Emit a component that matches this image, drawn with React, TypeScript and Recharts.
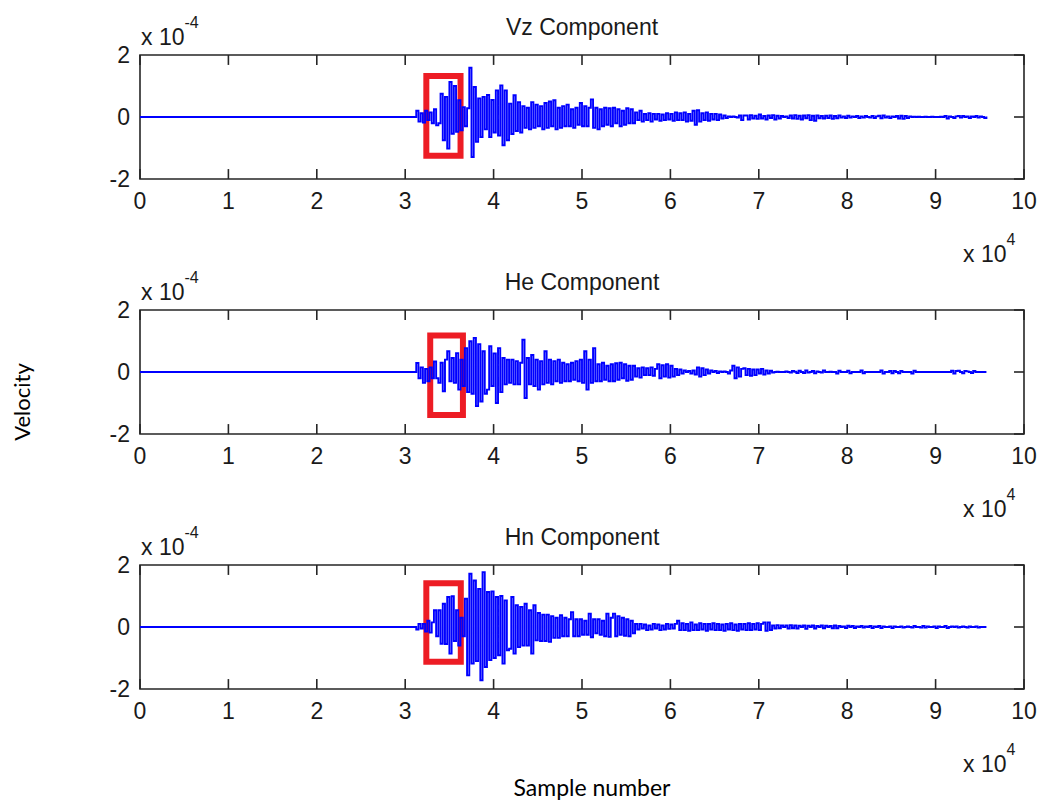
import React from 'react';
import { LineChart, Line, XAxis, YAxis, ReferenceArea, ReferenceLine } from 'recharts';

const startSample = 31000;
const sampleStep = 250;

const xTicks = [0, 10000, 20000, 30000, 40000, 50000, 60000, 70000, 80000, 90000, 100000];
const yTicks = [-2, 0, 2];
const xDomain = [0, 100000];
const yDomain = [-2, 2];

// amplitudes in units of 1e-4
const vzValues = [
  0, 0.2, -0.15, 0.12, -0.18, 0.2, -0.1, 0.15, -0.2, 0.25,
  -0.27, -0.2, 0.75, -0.75, 0.65, -1.02, 1.13, -0.54, 1.0, -0.48,
  0.54, -0.43, 0.32, -0.3, 0.28, 1.59, -1.29, 0.97, -0.8, 0.6,
  -0.65, 0.65, -0.4, 0.71, -0.65, 0.55, -0.5, 0.86, -0.6, 1.02,
  -0.91, 0.86, -0.75, 0.43, -0.55, 0.7, -0.45, 0.48, -0.5, 0.35,
  -0.35, 0.3, -0.4, 0.48, -0.35, 0.4, -0.3, 0.35, -0.4, 0.45,
  -0.35, 0.5, -0.3, 0.54, -0.4, 0.3, -0.35, 0.35, -0.3, 0.4,
  -0.3, 0.25, -0.35, 0.3, -0.25, 0.45, -0.3, 0.35, -0.3, 0.3,
  0.57, -0.35, 0.3, -0.4, 0.25, -0.3, 0.3, -0.25, 0.28, -0.3,
  0.3, -0.2, 0.25, -0.3, 0.2, -0.25, 0.28, -0.2, 0.25, -0.2,
  0.15, -0.1, 0.2, -0.15, 0.1, -0.1, 0.12, -0.15, 0.1, -0.08,
  0.1, -0.12, 0.08, -0.1, 0.12, -0.08, 0.1, -0.12, 0.15, -0.1,
  0.12, -0.1, 0.15, -0.15, 0.1, -0.12, 0.2, -0.25, 0.22, -0.15,
  0.12, -0.1, 0.15, -0.12, 0.1, -0.08, 0.1, -0.1, 0.08, -0.05,
  0.05, -0.03, 0.02, 0, 0.02, 0, -0.02, 0.05, -0.1, 0.05,
  0.05, -0.08, 0.06, -0.05, 0.04, -0.06, 0.08, -0.05, 0.03, -0.08,
  0.05, -0.03, 0.06, -0.08, 0.04, -0.05, 0.03, 0, 0.02, -0.03,
  0.05, -0.05, 0.06, -0.06, 0.04, -0.08, 0.05, -0.04, 0.06, -0.1,
  0.04, -0.12, 0.05, -0.04, 0.03, -0.05, 0.04, -0.03, 0.05, -0.06,
  0.03, -0.04, 0.05, -0.02, 0.02, -0.03, 0.04, -0.02, 0.02, 0,
  0.03, -0.03, 0.02, -0.02, 0.03, 0, -0.02, 0.03, -0.03, 0.02,
  0.04, -0.04, 0.05, -0.02, 0.02, -0.03, 0.02, 0, 0.03, -0.05,
  0.04, -0.06, 0.03, -0.03, 0.02, 0, 0.01, 0, 0.01, 0,
  0, 0.01, 0, 0, 0.01, 0, 0, 0, 0.01, 0,
  0.03, -0.05, 0.02, 0, -0.03, 0.02, 0.03, -0.02, 0.03, 0,
  0.02, -0.03, 0.02, 0, 0.03, -0.02, 0.02, 0, -0.03, 0.02,
];

const heValues = [
  0, 0.29, -0.2, 0.15, -0.35, 0.1, -0.3, 0.15, -0.2, 0.34,
  -0.2, -0.35, 0.3, -0.62, 0.4, 0.67, -0.3, 0.45, -0.35, 0.61,
  -0.57, 0.4, -0.45, 0.77, -0.65, 0.99, -0.7, 1.1, -1.1, 0.9,
  -0.95, 0.67, -0.7, -0.57, 0.83, -0.45, 0.6, -1.0, 0.77, -0.65,
  0.45, -0.4, 0.4, -0.35, 0.4, -0.4, 0.35, -0.4, 0.3, 1.04,
  -0.84, 0.45, -0.4, 0.55, -0.45, 0.4, -0.57, 0.35, -0.4, 0.67,
  -0.35, 0.4, -0.4, 0.35, -0.3, 0.4, -0.35, 0.3, -0.3, 0.25,
  -0.3, 0.3, -0.25, 0.35, -0.3, 0.4, -0.35, 0.67, -0.57, 0.4,
  -0.35, 0.77, -0.3, 0.25, -0.3, 0.3, -0.25, 0.2, -0.3, 0.25,
  -0.3, 0.28, -0.25, 0.3, -0.2, 0.25, -0.28, 0.2, -0.25, 0.2,
  -0.15, 0.12, -0.18, 0.15, -0.1, 0.12, -0.1, 0.15, -0.12, 0.1,
  0.25, -0.2, 0.22, -0.15, 0.25, -0.18, 0.2, -0.15, 0.1, -0.1,
  0.08, -0.05, 0.05, 0, 0.03, -0.05, 0.05, -0.08, 0.15, -0.15,
  0.12, -0.1, 0.08, -0.05, 0.05, 0, 0.03, -0.03, 0.02, 0,
  0.02, 0, -0.05, 0.05, 0.2, -0.2, 0.15, -0.15, 0.1, 0.12,
  -0.1, 0.1, -0.12, 0.08, -0.1, 0.08, -0.05, 0.1, -0.08, 0.05,
  -0.05, 0.04, -0.02, 0, 0.01, 0, 0, 0, 0.02, 0,
  -0.02, 0.03, 0.01, -0.03, 0.04, 0, -0.03, 0.05, -0.02, 0,
  0.03, -0.04, 0.02, 0, -0.02, 0.05, 0, 0, 0.01, 0,
  0, -0.05, 0.04, 0, 0, 0, 0.04, -0.04, 0, 0,
  0, 0, 0.05, -0.04, 0, 0, 0, 0, 0, 0,
  0, 0.05, -0.05, 0, 0, 0.03, -0.04, 0.03, 0, -0.04,
  0.03, 0, 0, 0, 0, -0.05, 0.04, 0, 0, 0,
  0, 0, 0, 0, 0, 0, 0, 0, 0, 0,
  0, 0, 0, 0.04, -0.05, 0.03, 0.04, 0, -0.04, 0.03,
  0.02, 0, -0.03, 0.03, 0, 0, 0, 0, 0, 0,
];

const hnValues = [
  0, -0.08, 0.1, -0.05, 0.1, -0.15, 0.2, -0.18, 0.15, 0.54,
  -0.3, 0.54, -0.54, 0.75, -0.55, 0.97, -0.86, 0.99, -0.45, 0.54,
  -0.6, 0.3, -0.3, 0.91, -1.56, 1.72, -1.18, 1.5, -1.1, 1.23,
  -1.72, 1.77, -1.29, 1.13, -1.07, 1.15, -1.0, 0.97, -0.91, 1.0,
  -1.18, 0.86, -0.75, -0.7, 0.97, -0.86, 0.7, -0.65, 0.65, -0.6,
  0.75, -0.6, 0.54, -0.86, 0.7, -0.43, 0.45, -0.45, 0.4, -0.45,
  0.4, -0.48, 0.35, -0.35, 0.3, -0.35, 0.38, -0.3, 0.3, -0.3,
  0.25, 0.48, -0.3, 0.25, -0.3, 0.25, -0.25, 0.2, -0.25, 0.43,
  -0.33, 0.25, -0.2, 0.25, -0.25, 0.2, -0.3, 0.43, -0.32, 0.3,
  0.43, -0.3, 0.35, -0.25, 0.3, -0.28, 0.25, -0.3, 0.2, -0.2,
  0.1, -0.08, 0.1, -0.05, 0.08, -0.1, 0.05, -0.08, 0.1, -0.05,
  0.08, -0.1, 0.05, -0.08, 0.1, -0.06, 0.08, -0.05, 0.1, 0.2,
  -0.1, 0.12, -0.1, 0.1, -0.12, 0.15, -0.1, 0.08, -0.1, 0.12,
  -0.08, 0.1, -0.12, 0.1, -0.08, 0.12, -0.1, 0.1, -0.1, 0.08,
  -0.12, 0.1, -0.08, 0.12, -0.1, 0.08, -0.12, 0.1, -0.08, 0.1,
  -0.1, 0.12, -0.1, 0.1, -0.08, 0.12, -0.1, 0.1, 0.15, -0.12,
  0.15, -0.1, 0.05, -0.05, 0.06, -0.04, 0.05, 0, 0.05, -0.05,
  0.06, -0.04, 0.05, -0.05, 0.04, 0, 0.05, -0.06, 0.04, 0,
  0.05, -0.05, 0.03, 0, 0.05, -0.04, 0.04, 0, 0.03, -0.04,
  0.05, -0.04, 0.03, 0, 0.02, -0.03, 0.04, 0, 0.03, -0.03,
  0.02, 0, 0.03, -0.02, 0.02, 0, 0.03, -0.03, 0.02, 0,
  0.03, -0.03, 0.02, 0, 0, 0.02, -0.03, 0.02, 0, 0,
  0.02, -0.02, 0, 0.02, 0, -0.02, 0.03, 0, 0, -0.02,
  0.03, -0.02, 0.02, 0, 0, 0.02, -0.03, 0.02, 0, 0,
  0.03, -0.03, 0, 0.02, 0, 0.02, -0.02, 0, 0.02, 0,
  -0.02, 0.02, 0, 0, 0.02, -0.02, 0, 0, 0, 0,
];

const titles = ['Vz Component', 'He Component', 'Hn Component'];

// highlighted windows (sample range, amplitude range)
const boxX1 = [32390, 32830, 32390];
const boxX2 = [36260, 36530, 36290];
const boxYTop = [1.32, 1.18, 1.41];
const boxYBottom = [-1.25, -1.39, -1.12];

const seriesList = [vzValues, heValues, hnValues];

const tickFont = "'Liberation Sans', Arial, sans-serif";
const labelFont = "Lato, 'Open Sans', sans-serif";
const axisColor = '#262626';
const textColor = '#1a1a1a';

const CHART_W = 1039;
const CHART_H = 255;
// inward tick mark lengths expressed in axis units
const xTickLen = 0.32;
const yTickLen = 1130;

function buildRows(values: number[]) {
  const rows = [{ x: 0, v: 0 }];
  values.forEach((v, i) => rows.push({ x: startSample + i * sampleStep, v }));
  return rows;
}

function Panel({ index }: { index: number }) {
  const rows = buildRows(seriesList[index]);
  return (
    <div style={{ position: 'absolute', left: 0, top: index * CHART_H, width: CHART_W, height: CHART_H }}>
      <LineChart width={CHART_W} height={CHART_H} data={rows} margin={{ top: 55, right: 15, bottom: 36, left: 100 }}>
        <XAxis
          xAxisId="b"
          dataKey="x"
          type="number"
          domain={xDomain}
          ticks={xTicks}
          interval={0}
          allowDataOverflow
          orientation="bottom"
          height={40}
          tickSize={0}
          tickLine={false}
          axisLine={false}
          tickMargin={14}
          tickFormatter={(v: number) => String(v / 10000)}
          tick={{ fill: textColor, fontSize: 23, fontFamily: tickFont }}
        />
        <YAxis
          yAxisId="l"
          type="number"
          domain={yDomain}
          ticks={yTicks}
          interval={0}
          allowDataOverflow
          width={40}
          tickSize={0}
          tickLine={false}
          axisLine={false}
          tickMargin={10}
          tick={{ fill: textColor, fontSize: 23, fontFamily: tickFont }}
        />
        <Line
          xAxisId="b"
          yAxisId="l"
          type="stepAfter"
          dataKey="v"
          dot={false}
          stroke="#0000ff"
          strokeWidth={1.9}
          isAnimationActive={false}
        />
        <ReferenceArea
          xAxisId="b"
          yAxisId="l"
          x1={xDomain[0]}
          x2={xDomain[1]}
          y1={yDomain[0]}
          y2={yDomain[1]}
          fill="none"
          fillOpacity={0}
          stroke={axisColor}
          strokeWidth={1.6}
          ifOverflow="visible"
        />
        {xTicks.map((t) => (
          <ReferenceLine
            key={'b' + t}
            xAxisId="b"
            yAxisId="l"
            segment={[{ x: t, y: yDomain[0] }, { x: t, y: yDomain[0] + xTickLen }]}
            stroke={axisColor}
            strokeWidth={1.6}
            ifOverflow="visible"
          />
        ))}
        {xTicks.map((t) => (
          <ReferenceLine
            key={'t' + t}
            xAxisId="b"
            yAxisId="l"
            segment={[{ x: t, y: yDomain[1] }, { x: t, y: yDomain[1] - xTickLen }]}
            stroke={axisColor}
            strokeWidth={1.6}
            ifOverflow="visible"
          />
        ))}
        {yTicks.map((t) => (
          <ReferenceLine
            key={'r' + t}
            xAxisId="b"
            yAxisId="l"
            segment={[{ x: xDomain[1] - yTickLen, y: t }, { x: xDomain[1], y: t }]}
            stroke={axisColor}
            strokeWidth={1.6}
            ifOverflow="visible"
          />
        ))}
        <ReferenceArea
          xAxisId="b"
          yAxisId="l"
          x1={boxX1[index]}
          x2={boxX2[index]}
          y1={boxYBottom[index]}
          y2={boxYTop[index]}
          fill="none"
          fillOpacity={0}
          stroke="#ed1c24"
          strokeWidth={6}
          ifOverflow="visible"
        />
      </LineChart>
    </div>
  );
}

function Annotations() {
  return (
    <svg width={CHART_W} height={804} style={{ position: 'absolute', left: 0, top: 0, pointerEvents: 'none' }}>
      {titles.map((t, i) => (
        <g key={t}>
          <text x={582} y={35 + i * CHART_H} textAnchor="middle" fontFamily={tickFont} fontSize={23} fill={textColor}>
            {t}
          </text>
          <text x={141} y={45 + i * CHART_H} fontFamily={tickFont} fontSize={23} fill={textColor}>
            <tspan>x 10</tspan>
            <tspan dy={-17} fontSize={16}>-4</tspan>
          </text>
          <text x={963} y={262 + i * CHART_H} fontFamily={tickFont} fontSize={23} fill={textColor}>
            <tspan>x 10</tspan>
            <tspan dy={-17} fontSize={16}>4</tspan>
          </text>
        </g>
      ))}
      <text
        x={30}
        y={402}
        textAnchor="middle"
        transform="rotate(-90 30 402)"
        fontFamily={labelFont}
        fontSize={22}
        fill="#000"
      >
        Velocity
      </text>
      <text x={592} y={796} textAnchor="middle" fontFamily={labelFont} fontSize={23} fill="#000">
        Sample number
      </text>
    </svg>
  );
}

export default function App() {
  return (
    <div style={{ position: 'absolute', left: 0, top: 0, width: CHART_W, height: 804, background: '#fff' }}>
      <Panel index={0} />
      <Panel index={1} />
      <Panel index={2} />
      <Annotations />
    </div>
  );
}
